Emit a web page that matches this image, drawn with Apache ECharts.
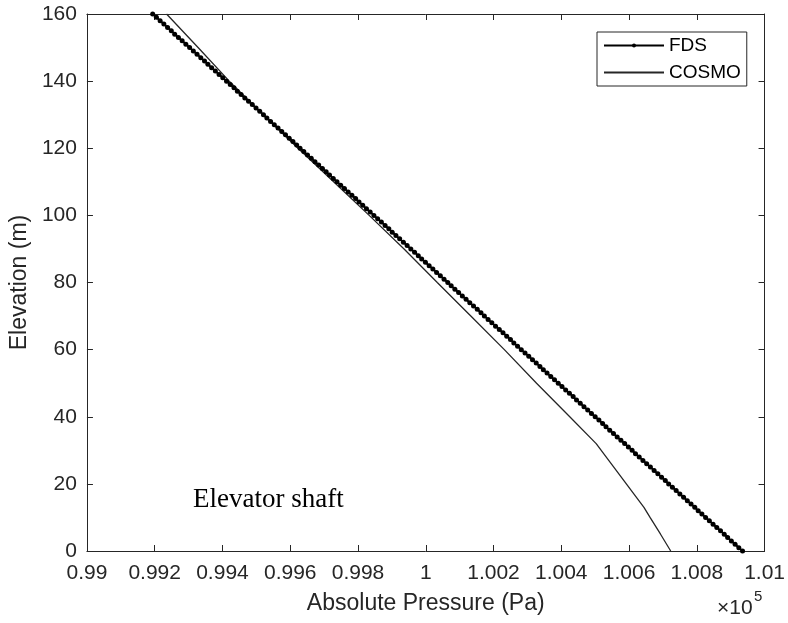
<!DOCTYPE html>
<html>
<head>
<meta charset="utf-8">
<script src="https://cdn.jsdelivr.net/npm/echarts@6/dist/echarts.min.js"></script>
<style>
html,body{margin:0;padding:0;background:#fff;}
#chart{width:788px;height:623px;}
</style>
</head>
<body>
<div id="chart"></div>
<script>
// FDS: elevation (m) and absolute pressure (Pa)
const fdsElevation = [0,1,2,3,4,5,6,7,8,9,10,11,12,13,14,15,16,17,18,19,20,21,22,23,24,25,26,27,28,29,30,31,32,33,34,35,36,37,38,39,40,41,42,43,44,45,46,47,48,49,50,51,52,53,54,55,56,57,58,59,60,61,62,63,64,65,66,67,68,69,70,71,72,73,74,75,76,77,78,79,80,81,82,83,84,85,86,87,88,89,90,91,92,93,94,95,96,97,98,99,100,101,102,103,104,105,106,107,108,109,110,111,112,113,114,115,116,117,118,119,120,121,122,123,124,125,126,127,128,129,130,131,132,133,134,135,136,137,138,139,140,141,142,143,144,145,146,147,148,149,150,151,152,153,154,155,156,157,158,159,160];
const fdsPressure = [
100935,100924,100913,100902,100891,100881,100870,100859,100848,100837,
100826,100815,100804,100794,100783,100772,100761,100750,100739,100728,
100717,100707,100696,100685,100674,100663,100652,100641,100630,100619,
100609,100598,100587,100576,100565,100554,100543,100532,100522,100511,
100500,100489,100478,100467,100456,100445,100435,100424,100413,100402,
100391,100380,100369,100358,100347,100337,100326,100315,100304,100293,
100282,100271,100260,100250,100239,100228,100217,100206,100195,100184,
100173,100163,100152,100141,100130,100119,100108,100097,100086,100075,
100065,100054,100043,100032,100021,100010,99999,99988,99978,99967,
99956,99945,99934,99923,99912,99901,99891,99880,99869,99858,
99847,99836,99825,99814,99803,99793,99782,99771,99760,99749,
99738,99727,99716,99706,99695,99684,99673,99662,99651,99640,
99629,99619,99608,99597,99586,99575,99564,99553,99542,99531,
99521,99510,99499,99488,99477,99466,99455,99444,99434,99423,
99412,99401,99390,99379,99368,99357,99347,99336,99325,99314,
99303,99292,99281,99270,99259,99249,99238,99227,99216,99205,
99194];

// COSMO: elevation (m) and absolute pressure (Pa)
const cosmoElevation = [0,5,10,13,20,25,32,40,50,60,70,80,90,100,110,120,130,140,150,160];
const cosmoPressure = [100723,100693,100662,100644,100592,100555,100503,100425,100327,100232,100133,100034,99936,99833,99728,99623,99520,99420,99328,99235];

const xTickLabels = ['0.99','0.992','0.994','0.996','0.998','1','1.002','1.004','1.006','1.008','1.01'];
const yTickLabels = ['0','20','40','60','80','100','120','140','160'];

const FONT = 'Liberation Sans, Arial, sans-serif';
const AX = '#262626';

const chart = echarts.init(document.getElementById('chart'), null, {renderer:'canvas'});

const fdsData = fdsElevation.map((h,i)=>[fdsPressure[i], h]);
const cosmoData = cosmoElevation.map((h,i)=>[cosmoPressure[i], h]);

const commonX = {
  type:'value', min:99000, max:101000, interval:200
};
const commonY = {
  type:'value', min:0, max:160, interval:20
};

chart.setOption({
  animation:false,
  backgroundColor:'#fff',
  grid:{left:86, right:22, top:14, bottom:72, containLabel:false},
  legend:{
    orient:'vertical',
    left:597, top:32,
    padding:[4,6,4,6],
    itemWidth:60, itemHeight:5, itemGap:8,
    borderColor:AX, borderWidth:1, backgroundColor:'#fff',
    textStyle:{fontFamily:FONT, fontSize:19, color:'#000', lineHeight:19},
    data:[
      {name:'FDS'},
      {name:'COSMO', itemStyle:{opacity:0}}
    ]
  },
  xAxis:[
    Object.assign({}, commonX, {
      position:'bottom',
      name:'Absolute Pressure (Pa)', nameLocation:'middle', nameGap:41,
      nameTextStyle:{fontFamily:FONT, fontSize:23, color:AX},
      axisLine:{show:true, onZero:false, lineStyle:{color:AX, width:1}},
      axisTick:{show:true, inside:true, length:6, lineStyle:{color:AX}},
      axisLabel:{show:true, margin:12, fontFamily:FONT, fontSize:21, color:AX,
        formatter:(v)=>xTickLabels[Math.round((v-99000)/200)]},
      splitLine:{show:false}
    }),
    Object.assign({}, commonX, {
      position:'top',
      axisLine:{show:true, onZero:false, lineStyle:{color:AX, width:1}},
      axisTick:{show:true, inside:true, length:6, lineStyle:{color:AX}},
      axisLabel:{show:false}, splitLine:{show:false}
    })
  ],
  yAxis:[
    Object.assign({}, commonY, {
      position:'left',
      name:'Elevation (m)', nameLocation:'middle', nameGap:52,
      nameTextStyle:{fontFamily:FONT, fontSize:23, color:AX},
      axisLine:{show:true, onZero:false, lineStyle:{color:AX, width:1}},
      axisTick:{show:true, inside:true, length:6, lineStyle:{color:AX}},
      axisLabel:{show:true, margin:10, fontFamily:FONT, fontSize:21, color:AX,
        formatter:(v)=>yTickLabels[Math.round(v/20)]},
      splitLine:{show:false}
    }),
    Object.assign({}, commonY, {
      position:'right',
      axisLine:{show:true, onZero:false, lineStyle:{color:AX, width:1}},
      axisTick:{show:true, inside:true, length:6, lineStyle:{color:AX}},
      axisLabel:{show:false}, splitLine:{show:false}
    })
  ],
  series:[
    {
      name:'FDS', type:'line', xAxisIndex:0, yAxisIndex:0,
      data:fdsData,
      symbol:'circle', symbolSize:5, showSymbol:true,
      lineStyle:{color:'#000', width:2},
      itemStyle:{color:'#000'},
      emphasis:{disabled:true}
    },
    {
      name:'COSMO', type:'line', xAxisIndex:0, yAxisIndex:0,
      data:cosmoData,
      symbol:'none', showSymbol:false,
      lineStyle:{color:'#262626', width:1.3},
      itemStyle:{color:'#262626'},
      emphasis:{disabled:true}
    }
  ],
  graphic:[
    {
      type:'text', left:193, top:486,
      style:{text:'Elevator shaft', font:'27px "Liberation Serif", "Times New Roman", serif', fill:'#000'}
    },
    {
      type:'text', left:717, top:598,
      style:{text:'×10', font:'21px "Liberation Sans", Arial, sans-serif', fill:AX}
    },
    {
      type:'text', left:754, top:589,
      style:{text:'5', font:'15px "Liberation Sans", Arial, sans-serif', fill:AX}
    }
  ]
});
</script>
</body>
</html>
